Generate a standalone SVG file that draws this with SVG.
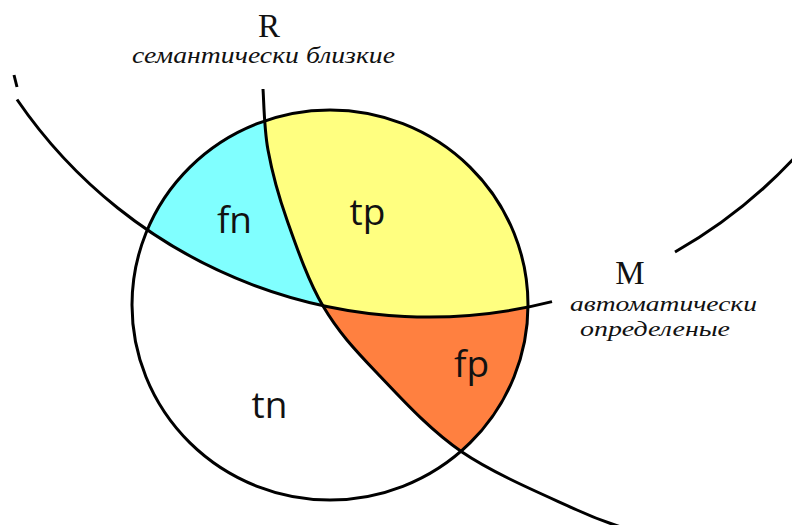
<svg xmlns="http://www.w3.org/2000/svg" width="792" height="525" viewBox="0 0 792 525">
  <style>
    .ln { fill: none; stroke: #000; stroke-width: 3; stroke-linejoin: round; }
    .lbl { font-family: "Open Sans", "Noto Sans", sans-serif; font-size: 37px; fill: #111; text-anchor: middle; }
    .set { font-family: "Liberation Serif", "DejaVu Serif", serif; font-size: 33px; fill: #111; text-anchor: middle; }
    .cap { font-family: "Liberation Serif", "DejaVu Serif", serif; font-style: italic; font-size: 24px; fill: #111; }
    .cap2 { font-family: "Liberation Serif", "DejaVu Serif", serif; font-style: italic; font-size: 22px; fill: #111; }
  </style>
  <defs>
    <clipPath id="circ"><ellipse cx="330" cy="305" rx="198" ry="195"/></clipPath>
    <clipPath id="mdisk"><circle cx="429" cy="-182" r="499"/></clipPath>
    <path id="rcurve" d="M263,89 C263.8,99.2 264,128.2 268,150 C272,171.8 277.8,194 287,220 C296.2,246 308,280.5 323,306 C338,331.5 353.8,348.7 377,373 C400.2,397.3 428.7,429.2 462,452 C495.3,474.8 549,497 577,510 C605,523 621.2,526.7 630,530"/>
  </defs>
  <rect width="792" height="525" fill="#fff"/>

  <g id="regions" clip-path="url(#circ)">
    <g id="tn"><rect x="0" y="0" width="792" height="525" fill="#fff"/></g>
    <g id="fp"><path d="M263,89 C263.8,99.2 264,128.2 268,150 C272,171.8 277.8,194 287,220 C296.2,246 308,280.5 323,306 C338,331.5 353.8,348.7 377,373 C400.2,397.3 428.7,429.2 462,452 C495.3,474.8 549,497 577,510 C605,523 621.2,526.7 630,530 L800,530 L800,0 L263,0 Z" fill="#FF8040"/></g>
    <g id="fn"><circle cx="429" cy="-182" r="499" fill="#80FFFF"/></g>
    <g id="tp"><path clip-path="url(#mdisk)" d="M263,89 C263.8,99.2 264,128.2 268,150 C272,171.8 277.8,194 287,220 C296.2,246 308,280.5 323,306 C338,331.5 353.8,348.7 377,373 C400.2,397.3 428.7,429.2 462,452 C495.3,474.8 549,497 577,510 C605,523 621.2,526.7 630,530 L800,530 L800,0 L263,0 Z" fill="#FFFF80"/></g>
  </g>

  <g id="connectors">
    <ellipse class="ln" cx="330" cy="305" rx="198" ry="195"/>
    <use href="#rcurve" class="ln"/>
    <path class="ln" d="M14,75 L17,87"/>
    <path class="ln" d="M17,99.5 A499,499 0 0 0 552,301.6"/>
    <path class="ln" d="M675,252 A499,499 0 0 0 800,151.7"/>
  </g>

  <g id="labels">
    <text class="lbl" x="234.5" y="233">fn</text>
    <text class="lbl" x="367.5" y="225">tp</text>
    <text class="lbl" x="471.5" y="377">fp</text>
    <text class="lbl" x="269.5" y="418">tn</text>
  </g>

  <g id="setR">
    <text class="set" x="269" y="37">R</text>
    <text class="cap" x="132" y="63" textLength="263" lengthAdjust="spacingAndGlyphs">семантически близкие</text>
  </g>
  <g id="setM">
    <text class="set" x="630" y="284">M</text>
    <text class="cap2" x="570" y="311" textLength="187" lengthAdjust="spacingAndGlyphs">автоматически</text>
    <text class="cap2" x="580" y="336" textLength="150" lengthAdjust="spacingAndGlyphs">определеные</text>
  </g>
</svg>
